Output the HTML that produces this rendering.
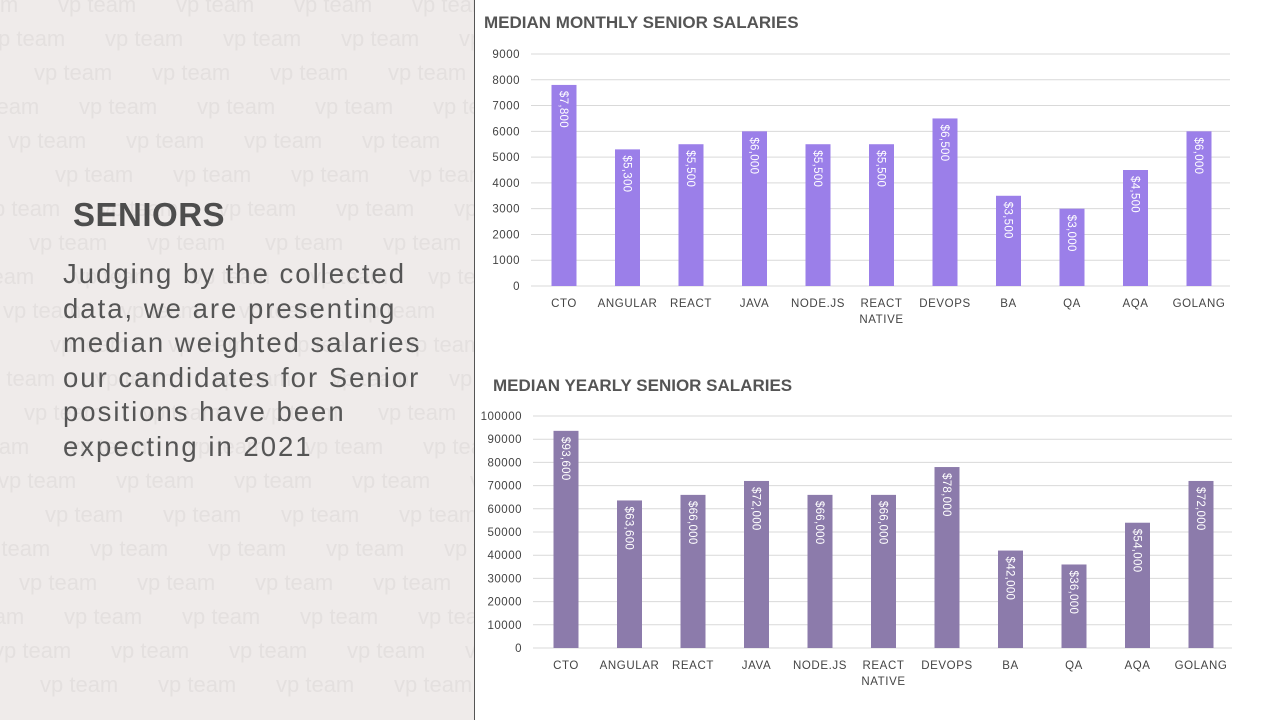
<!DOCTYPE html>
<html><head><meta charset="utf-8"><style>
html,body{margin:0;padding:0;width:1280px;height:720px;overflow:hidden;background:#fff;font-family:"Liberation Sans",sans-serif}
#left{position:absolute;left:0;top:0;width:474px;height:720px;background:#efebea;overflow:hidden}
#divider{position:absolute;left:474px;top:0;width:1px;height:720px;background:#555}
.wm{position:absolute;color:#e4e0df;font-size:22px;white-space:nowrap}
#title{position:absolute;left:73px;top:196px;font-size:33px;font-weight:bold;color:#4d4d4d;letter-spacing:0.5px}
#desc{position:absolute;left:63px;top:257px;font-size:27.5px;line-height:34.5px;color:#555;letter-spacing:2px}
svg{position:absolute;left:0;top:0}
</style></head><body>
<div id="left"></div>
<div id="title">SENIORS</div>
<div id="desc">Judging by the collected<br>data, we are presenting<br>median weighted salaries<br>our candidates for Senior<br>positions have been<br>expecting in 2021</div>
<div id="divider"></div>
<svg id="chart" width="1280" height="720"></svg>
<script>
const categories=["CTO","ANGULAR","REACT","JAVA","NODE.JS","REACT|NATIVE","DEVOPS","BA","QA","AQA","GOLANG"];
const monthlyValues=[7800,5300,5500,6000,5500,5500,6500,3500,3000,4500,6000];
const monthlyTicks=[0,1000,2000,3000,4000,5000,6000,7000,8000,9000];
const yearlyValues=[93600,63600,66000,72000,66000,66000,78000,42000,36000,54000,72000];
const yearlyTicks=[0,10000,20000,30000,40000,50000,60000,70000,80000,90000,100000];

const left=document.getElementById('left');
for(let r=0;r<21;r++){
  for(let c=0;c<5;c++){
    const d=document.createElement('div');
    d.className='wm';
    
    
    d.textContent='vp team';
    const off=(r*47)%120;
    d.style.left=(c*118-60+off)+'px';
    d.style.top=(r*34-8)+'px';
    left.appendChild(d);
  }
}

const NS='http://www.w3.org/2000/svg';
const svg=document.getElementById('chart');
function el(tag,attrs,parent){const e=document.createElementNS(NS,tag);for(const k in attrs)e.setAttribute(k,attrs[k]);(parent||svg).appendChild(e);return e;}

function drawChart(cfg){
  const g=el('g',{});
  
  
  const max=cfg.ticks[cfg.ticks.length-1];
  const y=v=>cfg.y0-(v/max)*(cfg.y0-cfg.yTop);
  const x=i=>cfg.x0+cfg.step*i;
  const t=el('text',{x:cfg.titleX,y:cfg.titleY,'font-size':'17','font-weight':'bold',fill:'#555'},g);
  t.textContent=cfg.title;
  
  
  cfg.ticks.forEach(v=>{
    const l=el('line',{x1:cfg.gx1,x2:cfg.gx2,y1:y(v),y2:y(v),stroke:'#d9d9d9','stroke-width':1},g);
    
    
    const tt=el('text',{x:cfg.gx1-11,y:y(v)+4,'font-size':'11.5','text-anchor':'end',fill:'#444','letter-spacing':'0.5'},g);
    tt.textContent=v;
    
    
  });
  cfg.values.forEach((v,i)=>{
    const b=el('rect',{x:x(i)-12.5,y:y(v),width:25,height:y(0)-y(v),fill:cfg.color},g);
    
    
    const lbl=el('text',{transform:`translate(${x(i)-4},${y(v)+6}) rotate(90)`,'font-size':'11.5',fill:'#fff','letter-spacing':'0.3'},g);
    lbl.textContent='$'+v.toLocaleString('en-US');
    
    
    const parts=categories[i].split('|');
    parts.forEach((p,k)=>{
      const ct=el('text',{x:x(i),y:y(0)+21+k*16,'font-size':'11.5','text-anchor':'middle',fill:'#444','letter-spacing':'0.6'},g);
      ct.textContent=p;
      
      
    });
  });
}
drawChart({name:'monthly-chart',title:'MEDIAN MONTHLY SENIOR SALARIES',titleX:484,titleY:28,values:monthlyValues,ticks:monthlyTicks,y0:286,yTop:54,x0:564,step:63.5,gx1:531,gx2:1230,color:'#9b7fe9'});
drawChart({name:'yearly-chart',title:'MEDIAN YEARLY SENIOR SALARIES',titleX:493,titleY:391,values:yearlyValues,ticks:yearlyTicks,y0:648,yTop:416,x0:566,step:63.5,gx1:533,gx2:1232,color:'#8c7bab'});
</script>
</body></html>
